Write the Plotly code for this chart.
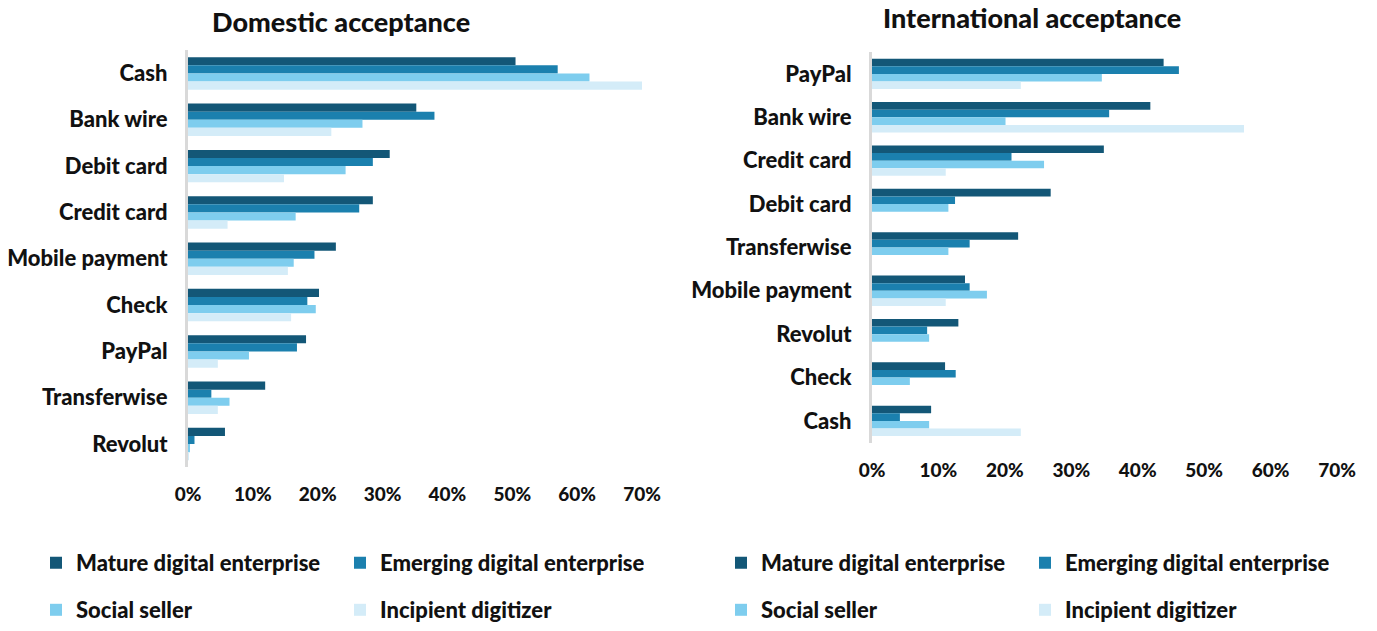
import plotly.graph_objects as go

SEGMENTS = ["Mature digital enterprise", "Emerging digital enterprise", "Social seller", "Incipient digitizer"]
COLORS = ["#135777", "#1b80ae", "#7ecdee", "#d4ecf8"]

DOM_METHODS = ["Cash", "Bank wire", "Debit card", "Credit card", "Mobile payment",
               "Check", "PayPal", "Transferwise", "Revolut"]
DOM_MATURE = [50.5, 35.2, 31.1, 28.5, 22.8, 20.2, 18.2, 11.9, 5.7]
DOM_EMERGING = [57.0, 38.0, 28.5, 26.4, 19.5, 18.4, 16.8, 3.6, 1.0]
DOM_SOCIAL = [61.9, 26.9, 24.3, 16.6, 16.3, 19.7, 9.4, 6.4, 0.3]
DOM_INCIPIENT = [70.0, 22.1, 14.8, 6.1, 15.4, 15.9, 4.6, 4.6, 0.1]

INT_METHODS = ["PayPal", "Bank wire", "Credit card", "Debit card", "Transferwise",
               "Mobile payment", "Revolut", "Check", "Cash"]
INT_MATURE = [43.9, 41.9, 34.9, 26.9, 22.0, 14.0, 13.0, 11.0, 8.9]
INT_EMERGING = [46.2, 35.7, 21.0, 12.5, 14.7, 14.7, 8.3, 12.6, 4.2]
INT_SOCIAL = [34.6, 20.1, 25.9, 11.5, 11.5, 17.3, 8.6, 5.7, 8.6]
INT_INCIPIENT = [22.4, 56.0, 11.1, 0, 0, 11.1, 0, 0, 22.4]

TICK_VALS = [0, 10, 20, 30, 40, 50, 60, 70]
TICK_TEXT = ["0%", "10%", "20%", "30%", "40%", "50%", "60%", "70%"]

FONT = "Lato, 'Open Sans', sans-serif"
WEIGHT = 900

fig = go.Figure()

dom_series = [DOM_MATURE, DOM_EMERGING, DOM_SOCIAL, DOM_INCIPIENT]
int_series = [INT_MATURE, INT_EMERGING, INT_SOCIAL, INT_INCIPIENT]

for i, (name, color, vals) in enumerate(zip(SEGMENTS, COLORS, dom_series)):
    fig.add_trace(go.Bar(
        x=vals, y=DOM_METHODS, name=name, orientation="h",
        marker=dict(color=color, line=dict(width=0)),
        xaxis="x", yaxis="y",
        legend="legend" if i < 2 else "legend2",
    ))

for i, (name, color, vals) in enumerate(zip(SEGMENTS, COLORS, int_series)):
    fig.add_trace(go.Bar(
        x=vals, y=INT_METHODS, name=name, orientation="h",
        marker=dict(color=color, line=dict(width=0)),
        xaxis="x2", yaxis="y2",
        legend="legend3" if i < 2 else "legend4",
    ))

W, H = 1377, 631


def px_x(p):
    return p / W


def px_y(p):
    return 1 - (p + 2) / H


xaxis_common = dict(
    range=[0, 70], tickvals=TICK_VALS, ticktext=TICK_TEXT,
    showgrid=False, zeroline=False, showline=False, automargin=False,
    tickfont=dict(size=19, color="#111111", weight=WEIGHT), ticklabelstandoff=14,
    fixedrange=True,
)
yaxis_common = dict(
    autorange="reversed", showgrid=False, zeroline=False, automargin=False,
    showline=True, linecolor="#d9d9d9", linewidth=3,
    tickfont=dict(size=22, color="#111111", weight=WEIGHT), ticklabelstandoff=13,
    fixedrange=True,
)

legend_common = dict(
    orientation="h", entrywidth=259, entrywidthmode="pixels",
    font=dict(size=22, color="#111111", weight=WEIGHT), yanchor="middle", xanchor="left",
    bgcolor="rgba(0,0,0,0)", itemclick=False, itemdoubleclick=False,
)

fig.update_layout(
    width=W, height=H,
    paper_bgcolor="white", plot_bgcolor="white",
    font=dict(family=FONT, color="#111111", weight=WEIGHT),
    margin=dict(l=0, r=0, t=0, b=0),
    barmode="group", bargap=0.3, bargroupgap=0,
    xaxis=dict(domain=[px_x(188), px_x(642)], anchor="y", **xaxis_common),
    yaxis=dict(domain=[px_y(472), px_y(49)], anchor="x", **yaxis_common),
    xaxis2=dict(domain=[px_x(872), px_x(1337)], anchor="y2", **xaxis_common),
    yaxis2=dict(domain=[px_y(447), px_y(51)], anchor="x2", **yaxis_common),
    legend=dict(x=px_x(36), y=px_y(569), **legend_common),
    legend2=dict(x=px_x(36), y=px_y(617), **legend_common),
    legend3=dict(x=px_x(721), y=px_y(569), **legend_common),
    legend4=dict(x=px_x(721), y=px_y(617), **legend_common),
    annotations=[
        dict(text="Domestic acceptance", x=px_x(341), y=1 - 4 / H, xref="paper", yref="paper",
             showarrow=False, font=dict(size=27, weight=WEIGHT), xanchor="center", yanchor="top",
             borderpad=0),
        dict(text="International acceptance", x=px_x(1032), y=1, xref="paper", yref="paper",
             showarrow=False, font=dict(size=27, weight=WEIGHT), xanchor="center", yanchor="top",
             borderpad=0),
    ],
)

# drop the browser's default body margin so the figure sits flush in the window
fig.write_html("out.html", config={"displayModeBar": False},
               post_script="document.body.style.margin='0';")
